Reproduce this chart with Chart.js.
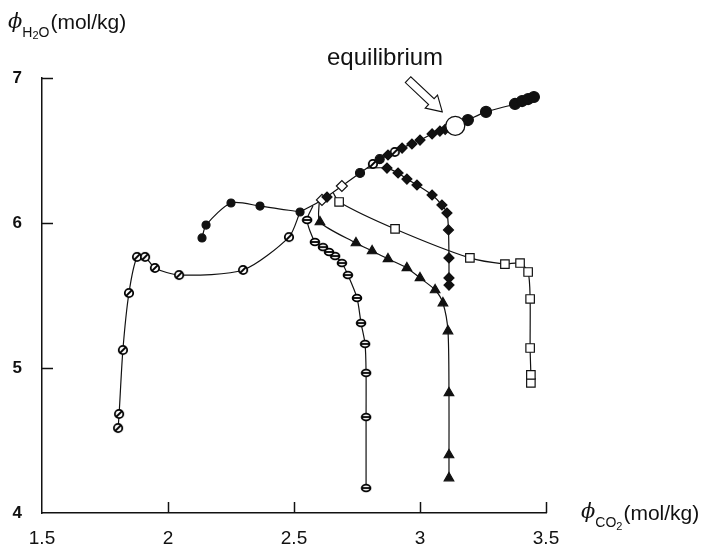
<!DOCTYPE html>
<html>
<head>
<meta charset="utf-8">
<script src="https://cdn.jsdelivr.net/npm/chart.js@4"></script>
<style>
  html, body { margin: 0; padding: 0; background: #fff; }
  #wrap { width: 709px; height: 548px; position: relative; }
</style>
</head>
<body>
<div id="wrap"><canvas id="c"></canvas></div>
<script>
// open circles with slash
const slashX = [1.802, 1.806, 1.821, 1.845, 1.877, 1.909, 1.948, 2.044, 2.298, 2.48, 2.524];
const slashY = [4.586, 4.683, 5.124, 5.517, 5.766, 5.766, 5.69, 5.641, 5.676, 5.903, 6.076];
// small filled circles
const dotX = [2.135, 2.151, 2.25, 2.365, 2.524];
const dotY = [5.897, 5.986, 6.138, 6.117, 6.076];
// open ellipses with bar
const barX = [2.786, 2.786, 2.786, 2.782, 2.766, 2.75, 2.714, 2.69, 2.663, 2.639, 2.615, 2.583, 2.552, 2.575];
const barY = [4.172, 4.662, 4.966, 5.166, 5.31, 5.483, 5.641, 5.724, 5.772, 5.8, 5.834, 5.869, 6.021, 6.117];
// filled triangles
const triX = [3.115, 3.115, 3.115, 3.111, 3.091, 3.06, 3.0, 2.948, 2.873, 2.81, 2.746, 2.603, 2.6];
const triY = [4.241, 4.4, 4.828, 5.255, 5.448, 5.538, 5.621, 5.69, 5.752, 5.807, 5.862, 6.007, 6.148];
// open squares
const sqX = [3.44, 3.44, 3.437, 3.437, 3.429, 3.397, 3.337, 3.198, 2.901, 2.679, 2.655];
const sqY = [4.897, 4.952, 5.138, 5.476, 5.662, 5.724, 5.717, 5.759, 5.959, 6.145, 6.21];
// filled diamonds
const dmX = [3.115, 3.115, 3.115, 3.113, 3.107, 3.087, 3.048, 2.988, 2.948, 2.913, 2.869, 2.79];
const dmY = [5.572, 5.621, 5.759, 5.952, 6.069, 6.124, 6.193, 6.262, 6.303, 6.345, 6.379, 6.379];
// large filled circles, top right
const topX = [3.19, 3.262, 3.377, 3.405, 3.429, 3.452];
const topY = [6.71, 6.766, 6.821, 6.841, 6.855, 6.869];
// shared path into equilibrium
const pathX = [2.524, 2.611, 2.69, 2.762, 2.813, 2.873, 2.929, 3.0, 3.048, 3.079, 3.14, 3.19, 3.262, 3.377, 3.405, 3.429, 3.452];
const pathY = [6.076, 6.159, 6.255, 6.345, 6.407, 6.469, 6.517, 6.572, 6.614, 6.634, 6.67, 6.71, 6.766, 6.821, 6.841, 6.855, 6.869];
// markers sitting on the shared path
const pathDmX = [2.631, 2.873, 2.929, 2.968, 3.0, 3.048, 3.079, 3.1];
const pathDmY = [6.179, 6.469, 6.517, 6.545, 6.572, 6.614, 6.634, 6.646];
const pathOpenDmX = [2.611, 2.69];
const pathOpenDmY = [6.159, 6.255];
const pathSlashX = [2.813, 2.9];
const pathSlashY = [6.407, 6.49];
const pathDotX = [2.762, 2.84];
const pathDotY = [6.345, 6.44];
const eqX = [3.14];
const eqY = [6.67];

const xTicksMin = 1.5, xTicksMax = 3.5, yTicksMin = 4, yTicksMax = 7;

const INK = '#111';
const pts = (xs, ys) => xs.map((v, i) => ({ x: v, y: ys[i] }));
const hideLast = (n, r) => ctx => ctx.dataIndex === n - 1 ? 0 : r;

// custom marks, drawn once on small canvases
function slashMark() {
  const c = document.createElement('canvas');
  c.width = 12; c.height = 12;
  const g = c.getContext('2d');
  g.fillStyle = '#fff'; g.strokeStyle = '#000'; g.lineWidth = 1.8;
  g.beginPath(); g.arc(6, 6, 4.2, 0, Math.PI * 2); g.fill(); g.stroke();
  g.beginPath(); g.moveTo(3, 9); g.lineTo(9, 3); g.stroke();
  return c;
}
function barMark() {
  const c = document.createElement('canvas');
  c.width = 12; c.height = 10;
  const g = c.getContext('2d');
  g.fillStyle = '#fff'; g.strokeStyle = '#000'; g.lineWidth = 1.8;
  g.beginPath(); g.ellipse(6, 5, 4.4, 3.4, 0, 0, Math.PI * 2); g.fill(); g.stroke();
  g.beginPath(); g.moveTo(1.8, 5); g.lineTo(10.2, 5); g.stroke();
  return c;
}
const slashImg = slashMark();
const barImg = barMark();

const lineSet = (data, style, r, filled, hide) => ({
  data,
  showLine: true,
  tension: 0.25,
  borderColor: INK,
  borderWidth: 1.2,
  pointStyle: style,
  pointRadius: hide ? hideLast(data.length, r) : r,
  pointBorderColor: INK,
  pointBorderWidth: 1.2,
  pointBackgroundColor: filled ? INK : '#fff'
});
const markSet = (data, style, r, filled) => ({
  data,
  showLine: false,
  pointStyle: style,
  pointRadius: r,
  pointBorderColor: INK,
  pointBorderWidth: 1.2,
  pointBackgroundColor: filled ? INK : '#fff'
});

function drawParts(ctx, x, parts) {
  parts.forEach(p => {
    ctx.font = p.font;
    ctx.fillText(p.text, x, p.y);
    x += ctx.measureText(p.text).width + (p.gap || 0);
  });
}

const overlay = {
  id: 'overlay',
  afterDraw(chart) {
    const { ctx, scales: { x, y } } = chart;
    ctx.save();
    ctx.strokeStyle = INK;
    ctx.lineWidth = 1.5;
    x.ticks.forEach(t => {
      if (t.value === xTicksMin) return;
      const px = Math.round(x.getPixelForValue(t.value)) + 0.5;
      ctx.beginPath(); ctx.moveTo(px, y.bottom); ctx.lineTo(px, y.bottom - 11); ctx.stroke();
    });
    y.ticks.forEach(t => {
      if (t.value === yTicksMin) return;
      const py = Math.round(y.getPixelForValue(t.value)) + 0.5;
      ctx.beginPath(); ctx.moveTo(x.left, py); ctx.lineTo(x.left + 11, py); ctx.stroke();
    });

    // hollow arrow pointing at the equilibrium point
    const ex = x.getPixelForValue(eqX[0]), ey = y.getPixelForValue(eqY[0]);
    ctx.translate(ex - 13, ey - 14);
    ctx.rotate(Math.atan2(32, 34));
    ctx.beginPath();
    ctx.moveTo(0, 0); ctx.lineTo(-15, 9); ctx.lineTo(-15, 4); ctx.lineTo(-47, 4);
    ctx.lineTo(-47, -4); ctx.lineTo(-15, -4); ctx.lineTo(-15, -9); ctx.closePath();
    ctx.fillStyle = '#fff'; ctx.fill();
    ctx.lineWidth = 1.1; ctx.stroke();
    ctx.restore();

    ctx.save();
    ctx.fillStyle = INK;
    ctx.textBaseline = 'alphabetic';
    ctx.font = '24px "Liberation Sans", Arial, sans-serif';
    ctx.fillText('equilibrium', 327, 65);

    const sans = '"Liberation Sans", Arial, sans-serif';
    drawParts(ctx, 8, [
      { text: 'ϕ', font: 'italic 21px "DejaVu Serif", serif', y: 28, gap: 0 },
      { text: 'H', font: '14px ' + sans, y: 37 },
      { text: '2', font: '11px ' + sans, y: 39 },
      { text: 'O', font: '14px ' + sans, y: 37, gap: 1 },
      { text: '(mol/kg)', font: '21px ' + sans, y: 29 }
    ]);
    drawParts(ctx, 581, [
      { text: 'ϕ', font: 'italic 21px "DejaVu Serif", serif', y: 518, gap: 0 },
      { text: 'CO', font: '14px ' + sans, y: 527 },
      { text: '2', font: '11px ' + sans, y: 530, gap: 1 },
      { text: '(mol/kg)', font: '21px ' + sans, y: 520 }
    ]);
    ctx.restore();
  }
};

new Chart(document.getElementById('c'), {
  type: 'scatter',
  data: {
    datasets: [
      { data: pts(eqX, eqY), pointRadius: 9.5, pointBorderWidth: 1.3, pointBorderColor: INK, pointBackgroundColor: '#fff', showLine: false },
      markSet(pts(topX, topY), 'circle', 5.5, true),
      markSet(pts(pathDotX, pathDotY), 'circle', 4.5, true),
      markSet(pts(pathDmX, pathDmY), 'rectRot', 5, true),
      markSet(pts(pathOpenDmX, pathOpenDmY), 'rectRot', 5.5, false),
      markSet(pts(pathSlashX, pathSlashY), slashImg, 4, false),
      lineSet(pts(dotX, dotY), 'circle', 4, true, false),
      lineSet(pts(slashX, slashY), slashImg, 4, false, true),
      lineSet(pts(barX, barY), barImg, 4, false, true),
      lineSet(pts(triX, triY), 'triangle', 5.5, true, true),
      lineSet(pts(sqX, sqY), 'rect', 6, false, true),
      lineSet(pts(dmX, dmY), 'rectRot', 5, true, true),
      { data: pts(pathX, pathY), showLine: true, tension: 0.3, borderColor: INK, borderWidth: 1.2, pointRadius: 0 }
    ]
  },
  options: {
    responsive: true,
    maintainAspectRatio: false,
    animation: false,
    layout: { padding: { top: 78, right: 163, left: 0, bottom: 0 } },
    plugins: { legend: false, tooltip: { enabled: false } },
    scales: {
      x: {
        type: 'linear',
        min: xTicksMin, max: xTicksMax,
        afterFit: s => { s.height = 35; },
        grid: { display: false, drawTicks: false },
        border: { display: true, color: INK, width: 1.5 },
        ticks: { stepSize: 0.5, padding: 14, color: INK, callback: v => String(v), font: { family: '"Liberation Sans", Arial', size: 19 } }
      },
      y: {
        type: 'linear',
        min: yTicksMin, max: yTicksMax,
        afterFit: s => { s.width = 42; },
        grid: { display: false, drawTicks: false },
        border: { display: true, color: INK, width: 1.5 },
        ticks: { stepSize: 1, padding: 20, color: INK, font: { family: '"Liberation Sans", Arial', size: 17, weight: 'bold' } }
      }
    }
  },
  plugins: [overlay]
});
</script>
</body>
</html>
